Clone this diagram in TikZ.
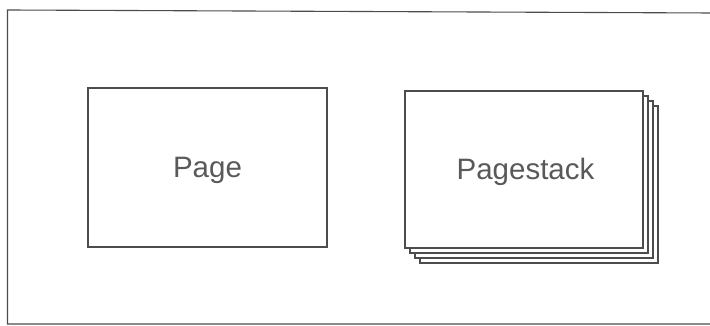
\documentclass[tikz,border=0pt]{standalone}
\usepackage{fontspec}
\setmainfont{Liberation Sans}
\begin{document}
\begin{tikzpicture}[x=1pt,y=1pt,
  line col/.style={draw=black!70, line width=1.1pt},
  box/.style={line col, fill=white, minimum width=238pt, minimum height=157pt, inner sep=0pt, outer sep=0pt,
    font=\fontsize{29.5}{30}\selectfont, text=black!65, text height=21pt, text depth=0pt},
  layer/.style={line col, fill=white}]
\useasboundingbox (0,0) rectangle (710,326);
\fill[white] (0,0) rectangle (710,326);
% outer frame (right side runs off the picture)
\coordinate (ftr) at (712,313);
\coordinate (ftl) at (7.5,316);
\coordinate (fbl) at (7.5,2);
\coordinate (fbr) at (712,2);
\draw[line col] (ftr) -- (ftl) -- (fbl) -- (fbr);
% Page
\node[box, minimum width=239pt, minimum height=159pt] (page) at (207.5,158.5) {Page};
% Pagestack back layers
\foreach \k in {3,2,1}{
  \draw[layer] ({405+5*\k},{326-91-5*\k}) rectangle ({643+5*\k},{326-248-5*\k});
}
\node[box] (stack) at (524,156.5) {\hspace*{3pt}Pagestack};
\end{tikzpicture}
\end{document}
